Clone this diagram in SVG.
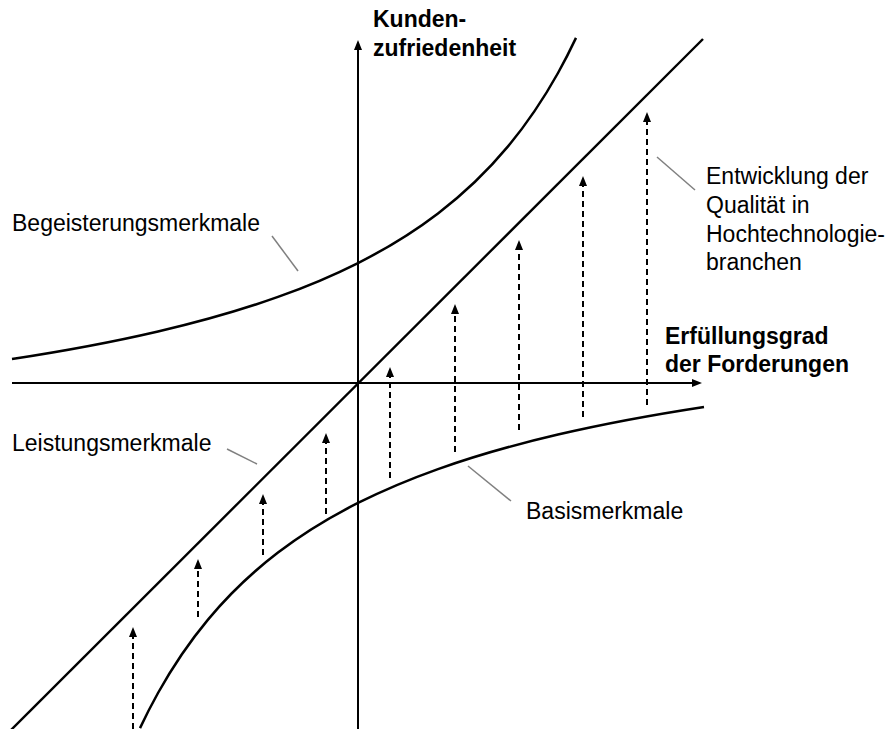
<svg xmlns="http://www.w3.org/2000/svg" width="888" height="729" viewBox="0 0 888 729">
  <defs>
    <marker id="head" markerUnits="userSpaceOnUse" viewBox="0 0 10 8" markerWidth="10" markerHeight="8" refX="0" refY="4" orient="auto">
      <path d="M0,0 L10,4 L0,8 z" fill="#000"/>
    </marker>
    <marker id="axisHead" markerUnits="userSpaceOnUse" viewBox="0 0 10 8" markerWidth="10" markerHeight="8" refX="0" refY="4" orient="auto">
      <path d="M0,0 L10,4 L0,8 z" fill="#000"/>
    </marker>
    <!-- hyperbolic satisfaction curve; the basic-features curve is the same path turned 180° about the origin -->
    <path id="curve" d="M12,359.03 C60.67,351.58 109.33,342.81 158,331.48 C198,322.17 238,311.17 278,296.91 C304.67,287.4 331.33,276.45 358,263.03 C384.67,249.61 411.33,233.8 438,213.44 C461.33,195.63 484.67,174.43 508,146.4 C524.67,126.38 541.33,102.9 558,73 C564,62.24 570,50.61 576,37.9"/>
  </defs>
  <style>
    .axis { stroke: #000; stroke-width: 2; fill: none; }
    .diag { stroke: #000; stroke-width: 2.4; fill: none; }
    .curve { stroke: #000; stroke-width: 2.5; fill: none; }
    .dash { stroke: #000; stroke-width: 2; stroke-dasharray: 6 4; fill: none; }
    .leader { stroke: #808080; stroke-width: 1.5; fill: none; }
    .lbl { font-family: "Liberation Sans", Arial, sans-serif; font-size: 23px; fill: #000; }
    .bold { font-family: "Liberation Sans", Arial, sans-serif; font-size: 23px; font-weight: bold; fill: #000; }
  </style>
  <rect width="888" height="729" fill="#fff"/>

  <g id="connectors">
    <!-- axes -->
    <line class="axis" x1="358" y1="729" x2="358" y2="50" marker-end="url(#axisHead)"/>
    <line class="axis" x1="12" y1="383" x2="692" y2="383" marker-end="url(#axisHead)"/>
    <!-- quality development arrows -->
    <line class="dash" x1="133" y1="729" x2="133" y2="637" marker-end="url(#head)"/>
    <line class="dash" x1="198" y1="617" x2="198" y2="569" marker-end="url(#head)"/>
    <line class="dash" x1="263" y1="555" x2="263" y2="504" marker-end="url(#head)"/>
    <line class="dash" x1="326" y1="514" x2="326" y2="443" marker-end="url(#head)"/>
    <line class="dash" x1="390" y1="478" x2="390" y2="377" marker-end="url(#head)"/>
    <line class="dash" x1="455" y1="452" x2="455" y2="314" marker-end="url(#head)"/>
    <line class="dash" x1="519" y1="430" x2="519" y2="250" marker-end="url(#head)"/>
    <line class="dash" x1="583" y1="417" x2="583" y2="186" marker-end="url(#head)"/>
    <line class="dash" x1="647" y1="405" x2="647" y2="122" marker-end="url(#head)"/>
    <!-- label leaders -->
    <line class="leader" x1="272" y1="236" x2="298" y2="271"/>
    <line class="leader" x1="227" y1="449" x2="257" y2="464"/>
    <line class="leader" x1="468" y1="466" x2="511" y2="501"/>
    <line class="leader" x1="657" y1="157" x2="695" y2="190"/>
  </g>

  <g id="leistungsmerkmale">
    <line class="diag" x1="5" y1="736" x2="703" y2="39"/>
    <text class="lbl" x="12" y="451">Leistungsmerkmale</text>
  </g>

  <g id="begeisterungsmerkmale">
    <use href="#curve" class="curve"/>
    <text class="lbl" x="12" y="231">Begeisterungsmerkmale</text>
  </g>

  <g id="basismerkmale">
    <use href="#curve" class="curve" transform="rotate(180 358 383)"/>
    <text class="lbl" x="526" y="519">Basismerkmale</text>
  </g>

  <g id="entwicklung">
    <text class="lbl" x="706" y="184">Entwicklung der</text>
    <text class="lbl" x="706" y="213">Qualität in</text>
    <text class="lbl" x="706" y="242">Hochtechnologie-</text>
    <text class="lbl" x="706" y="270">branchen</text>
  </g>

  <g id="y-axis-label">
    <text class="bold" x="373" y="27">Kunden-</text>
    <text class="bold" x="373" y="56">zufriedenheit</text>
  </g>

  <g id="x-axis-label">
    <text class="bold" x="665" y="344">Erfüllungsgrad</text>
    <text class="bold" x="665" y="372">der Forderungen</text>
  </g>
</svg>
